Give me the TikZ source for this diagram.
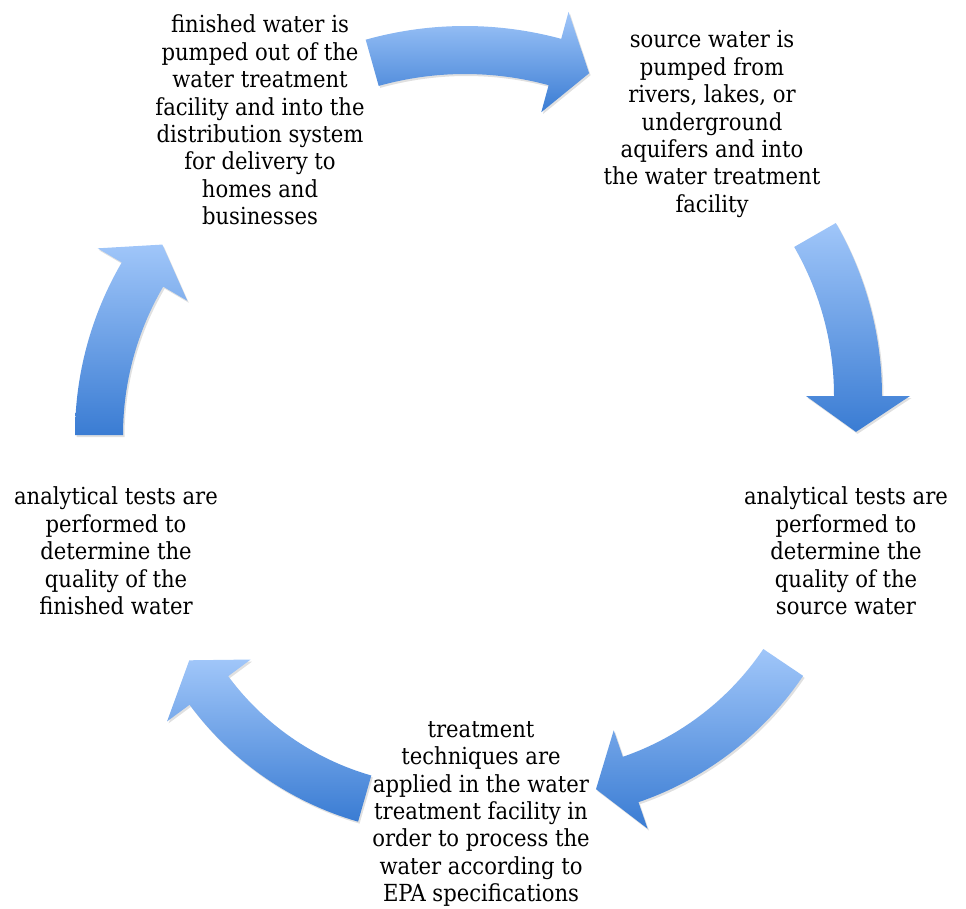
\documentclass[tikz,border=0pt]{standalone}
\usepackage{fontspec}
\setmainfont{DejaVu Serif Condensed}
\usepackage{tikz}
\usetikzlibrary{shadows}

\definecolor{arrowlight}{RGB}{160,198,249}
\definecolor{arrowdark}{RGB}{58,124,211}

% curved block arrow: centre x, centre y, radius, start angle, end angle
\newcommand{\cyclearrow}[5]{%
  \shade[cycarrow, shift={(#1,#2)}]
    ({#4}:{#3+24}) arc[start angle=#4, end angle=#5, radius=#3+24]
    -- ({#5}:{#3+52}) -- ({#5+36/#3*180/pi}:{#3}) -- ({#5}:{#3-52})
    -- ({#5}:{#3-24}) arc[start angle=#5, end angle=#4, radius=#3-24] -- cycle;
}

\begin{document}
\begin{tikzpicture}[
    x=1pt, y=-1pt,
    stage/.style={align=center, inner sep=0pt, font=\fontsize{23.5}{27.4}\selectfont},
    cycarrow/.style={top color=arrowlight, bottom color=arrowdark,
        drop shadow={opacity=0.3, fill=black!40, shadow xshift=1.5pt, shadow yshift=-2pt}}
]
    \useasboundingbox (0,0) rectangle (966,909);

    \node[stage] (finished) at (260,120) {finished water is\\pumped out of the\\water treatment\\facility and into the\\distribution system\\for delivery to\\homes and\\businesses};
    \node[stage] (source) at (712,124) {source water is\\pumped from\\rivers, lakes, or\\underground\\aquifers and into\\the water treatment\\facility};
    \node[stage] (testsource) at (846,551) {analytical tests are\\performed to\\determine the\\quality of the\\source water};
    \node[stage] (treat) at (481,814) {treatment\\techniques are\\applied in the water\\treatment facility in\\order to process the\\water according to\\EPA specifications};
    \node[stage] (testfinished) at (116,551) {analytical tests are\\performed to\\determine the\\quality of the\\finished water};

    \cyclearrow{465}{393}{343}{-105.7}{-74.8}
    \cyclearrow{535}{396}{323}{-29.9}{0}
    \cyclearrow{532}{493}{303}{34}{71}
    \cyclearrow{446}{515}{295}{106}{143.5}
    \cyclearrow{417}{435}{318}{180}{210.3}
\end{tikzpicture}
\end{document}
